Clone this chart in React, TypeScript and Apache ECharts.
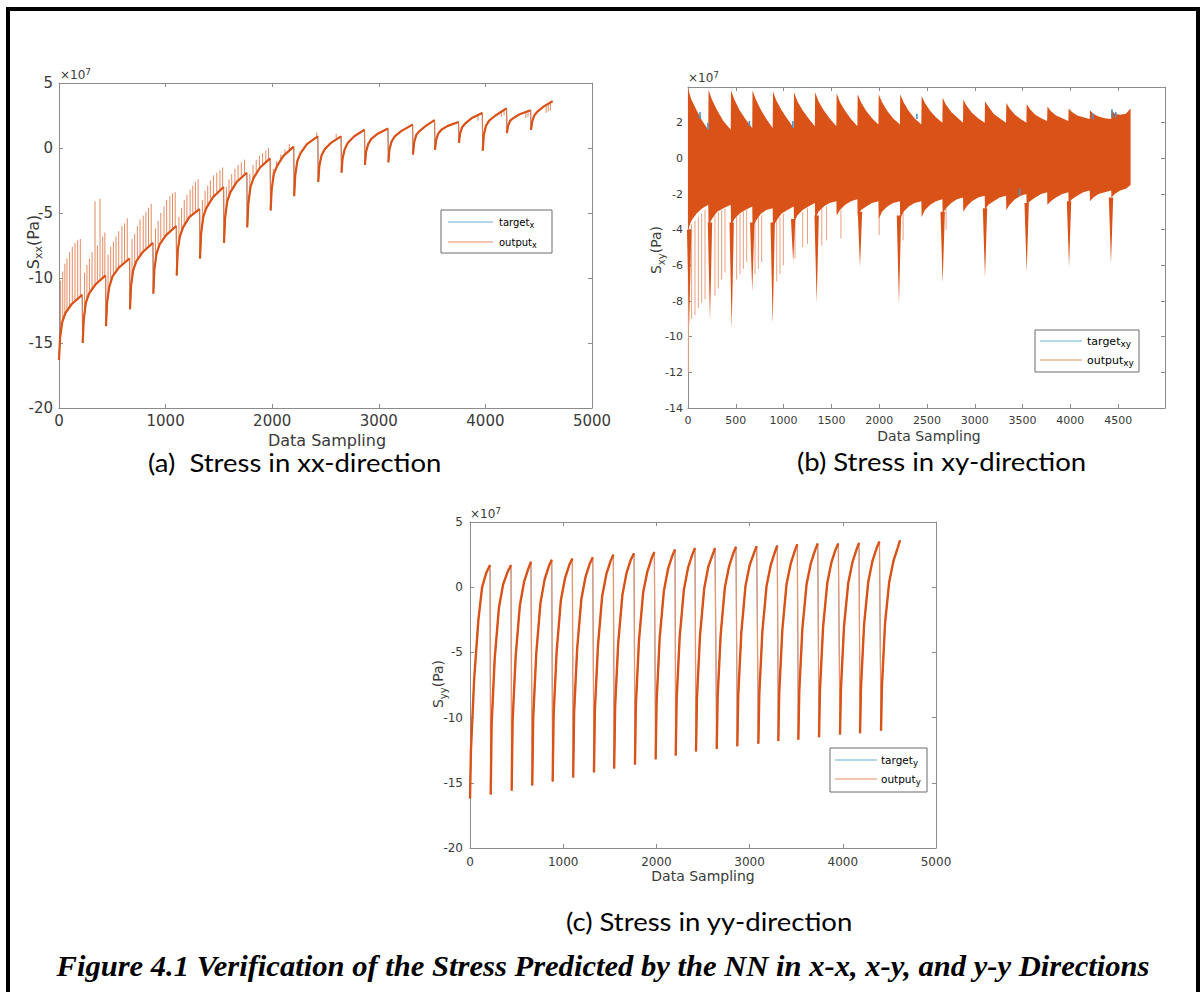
import React, { useEffect, useRef } from "react";
import * as echarts from "echarts";

const ORANGE = "#D95319";
const BLUE = "#0072BD";
const AX = "#8c8c8c";
const LBL = "#3a3a3a";
const FONT = "DejaVu Sans";

// ---------- (a) S_xx : cycles of [sample, stress (x1e7 Pa)] ----------
const xxRangeX = { min: 0, max: 5000, interval: 1000 };
const xxRangeY = { min: -20, max: 5, interval: 5 };
const xxCycles: number[][][] = [
  [[0, -16.3], [10, -14.6], [30, -13.4], [60, -12.7], [120, -12.0], [218, -11.3]],
  [[222, -15.0], [232, -13.2], [252, -11.9], [282, -11.2], [342, -10.5], [437, -9.8]],
  [[441, -13.7], [451, -11.9], [471, -10.7], [501, -9.9], [561, -9.2], [662, -8.5]],
  [[666, -12.4], [676, -10.6], [696, -9.4], [726, -8.7], [786, -8.0], [881, -7.3]],
  [[885, -11.2], [895, -9.3], [915, -8.1], [945, -7.4], [1005, -6.7], [1100, -6.0]],
  [[1104, -9.8], [1114, -7.9], [1134, -6.8], [1164, -6.1], [1224, -5.3], [1319, -4.7]],
  [[1323, -8.5], [1333, -6.6], [1353, -5.3], [1383, -4.6], [1443, -3.8], [1544, -3.0]],
  [[1548, -7.3], [1558, -5.4], [1578, -4.1], [1608, -3.4], [1668, -2.6], [1762, -1.9]],
  [[1766, -6.1], [1776, -4.3], [1796, -3.0], [1826, -2.3], [1886, -1.5], [1981, -0.8]],
  [[1985, -4.8], [1995, -3.2], [2015, -2.0], [2045, -1.4], [2105, -0.6], [2202, 0.1]],
  [[2206, -3.7], [2216, -2.1], [2236, -1.0], [2266, -0.4], [2326, 0.3], [2428, 0.9]],
  [[2432, -2.6], [2442, -1.4], [2462, -0.6], [2492, -0.1], [2552, 0.4], [2646, 0.9]],
  [[2650, -1.9], [2660, -0.8], [2680, -0.1], [2710, 0.4], [2770, 0.9], [2866, 1.4]],
  [[2870, -1.3], [2880, -0.3], [2900, 0.3], [2930, 0.7], [2990, 1.1], [3086, 1.5]],
  [[3090, -1.1], [3100, -0.1], [3120, 0.5], [3150, 0.9], [3210, 1.3], [3317, 1.8]],
  [[3321, -0.5], [3331, 0.4], [3351, 1.0], [3381, 1.3], [3441, 1.7], [3523, 2.15]],
  [[3527, -0.15], [3537, 0.6], [3557, 1.1], [3587, 1.4], [3647, 1.7], [3748, 2.0]],
  [[3752, 0.4], [3762, 1.1], [3782, 1.6], [3812, 1.9], [3872, 2.3], [3971, 2.7]],
  [[3975, -0.2], [3985, 1.0], [4005, 1.7], [4035, 2.1], [4095, 2.5], [4198, 3.05]],
  [[4202, 1.15], [4212, 1.7], [4232, 2.1], [4262, 2.3], [4322, 2.6], [4424, 2.9]],
  [[4428, 1.4], [4438, 2.0], [4458, 2.5], [4488, 2.8], [4548, 3.2], [4630, 3.6]],
];
// thin spikes: [sample, curve value, spike tip]
const xxSpikes: number[][] = [
  [15, -14.2, -10.2], [35, -13.3, -9.5], [55, -12.9, -8.9], [75, -12.6, -8.5], [100, -12.2, -8.0], [125, -12.0, -7.6], [150, -11.8, -7.3], [175, -11.6, -7.1], [200, -11.4, -7.0],
  [240, -12.7, -9.6], [262, -11.8, -9.0], [285, -11.2, -8.5], [310, -10.9, -8.0], [338, -10.5, -4.1], [360, -10.3, -7.5], [385, -10.1, -3.9], [410, -10.0, -6.8], [430, -9.9, -6.5],
  [460, -11.2, -8.2], [485, -10.3, -7.6], [510, -9.7, -7.2], [535, -9.4, -6.8], [560, -9.2, -6.4], [590, -9.0, -6.0], [615, -8.8, -5.8], [640, -8.6, -5.4],
  [685, -9.8, -7.0], [710, -9.0, -6.6], [735, -8.5, -6.0], [760, -8.2, -5.5], [790, -7.9, -5.2], [815, -7.7, -4.9], [840, -7.5, -4.6], [865, -7.4, -4.3],
  [905, -8.4, -6.2], [930, -7.6, -5.6], [955, -7.1, -5.0], [985, -6.8, -4.5], [1010, -6.6, -4.0], [1040, -6.4, -3.7], [1065, -6.2, -3.5], [1090, -6.0, -3.4],
  [1125, -7.3, -5.3], [1150, -6.4, -4.6], [1175, -5.9, -4.0], [1200, -5.6, -3.6], [1230, -5.3, -3.2], [1255, -5.1, -2.9], [1280, -4.9, -2.6], [1305, -4.8, -2.4],
  [1345, -5.6, -4.0], [1370, -4.8, -3.3], [1395, -4.3, -2.9], [1420, -3.9, -2.5], [1450, -3.7, -2.1], [1480, -3.4, -1.9], [1510, -3.2, -1.7], [1535, -3.0, -1.5],
  [1570, -4.5, -3.0], [1595, -3.6, -2.4], [1620, -3.1, -2.0], [1650, -2.8, -1.6], [1680, -2.5, -1.3], [1710, -2.2, -1.1], [1740, -2.0, -0.9],
  [1790, -3.4, -2.0], [1820, -2.5, -1.3], [1850, -1.9, -0.9], [1880, -1.6, -0.6], [1910, -1.3, -0.4], [1940, -1.1, -0.2], [1965, -0.9, 0.0],
  [2010, -2.3, -1.6], [2040, -1.5, -1.0], [2080, -1.0, -0.5], [2120, -0.5, -0.1], [2160, -0.2, 0.3],
  [2417, 0.9, 1.2], [2600, 0.7, 1.1],
  [3930, 2.6, 2.1], [4150, 2.9, 2.4], [4175, 3.0, 2.5], [4380, 2.8, 2.3], [4400, 2.9, 2.4], [4570, 3.25, 2.7], [4590, 3.35, 2.8], [4610, 3.45, 2.9],
];

// ---------- (b) S_xy : oscillation envelopes ----------
const xyRangeX = { min: 0, max: 4990, interval: 500 };
const xyRangeY = { min: -14, max: 4, interval: 2 };
const xyUpper: number[][][] = [
  [[0, 3.9], [35, 3.3], [90, 2.7], [150, 2.1], [212, 1.6]],
  [[215, 3.85], [250, 3.3], [305, 2.7], [370, 2.1], [447, 1.6]],
  [[450, 3.8], [485, 3.3], [540, 2.7], [600, 2.2], [672, 1.7]],
  [[675, 3.8], [710, 3.3], [765, 2.7], [820, 2.2], [886, 1.7]],
  [[889, 3.75], [924, 3.25], [979, 2.7], [1040, 2.2], [1106, 1.7]],
  [[1109, 3.7], [1144, 3.2], [1199, 2.7], [1260, 2.25], [1327, 1.8]],
  [[1330, 3.7], [1365, 3.2], [1420, 2.7], [1480, 2.25], [1552, 1.8]],
  [[1555, 3.65], [1590, 3.15], [1645, 2.65], [1705, 2.2], [1772, 1.8]],
  [[1775, 3.6], [1810, 3.15], [1865, 2.65], [1925, 2.25], [1992, 1.9]],
  [[1995, 3.6], [2030, 3.15], [2085, 2.65], [2145, 2.25], [2217, 1.9]],
  [[2220, 3.6], [2255, 3.15], [2310, 2.65], [2370, 2.25], [2441, 1.9]],
  [[2444, 3.5], [2479, 3.1], [2534, 2.65], [2594, 2.3], [2661, 2.0]],
  [[2664, 3.4], [2699, 3.0], [2754, 2.6], [2814, 2.3], [2877, 2.0]],
  [[2880, 3.3], [2915, 2.95], [2970, 2.55], [3035, 2.25], [3104, 2.0]],
  [[3107, 3.2], [3142, 2.9], [3197, 2.5], [3260, 2.25], [3327, 2.0]],
  [[3330, 3.1], [3365, 2.8], [3420, 2.45], [3480, 2.2], [3540, 2.0]],
  [[3543, 3.05], [3578, 2.75], [3633, 2.45], [3695, 2.25], [3757, 2.1]],
  [[3760, 2.9], [3795, 2.65], [3850, 2.4], [3915, 2.25], [3979, 2.1]],
  [[3982, 2.8], [4017, 2.6], [4072, 2.4], [4135, 2.3], [4202, 2.2]],
  [[4205, 2.7], [4240, 2.5], [4295, 2.35], [4360, 2.25], [4427, 2.2]],
  [[4430, 2.7], [4465, 2.5], [4520, 2.45], [4580, 2.5], [4630, 2.8]],
];
const xyLower: number[][][] = [
  [[0, -4.0], [35, -3.5], [90, -3.1], [150, -2.8], [212, -2.6]],
  [[215, -3.8], [250, -3.4], [305, -3.0], [370, -2.8], [447, -2.6]],
  [[450, -3.8], [485, -3.4], [540, -3.1], [600, -2.9], [672, -2.7]],
  [[675, -3.9], [710, -3.5], [765, -3.1], [820, -2.9], [886, -2.8]],
  [[889, -3.9], [924, -3.5], [979, -3.1], [1040, -2.9], [1106, -2.7]],
  [[1109, -3.6], [1144, -3.2], [1199, -2.9], [1260, -2.7], [1327, -2.5]],
  [[1330, -3.4], [1365, -3.0], [1420, -2.7], [1480, -2.5], [1552, -2.4]],
  [[1555, -3.2], [1590, -2.9], [1645, -2.6], [1705, -2.4], [1772, -2.3]],
  [[1775, -3.2], [1810, -2.9], [1865, -2.7], [1925, -2.5], [1992, -2.4]],
  [[1995, -3.4], [2030, -3.0], [2085, -2.7], [2145, -2.5], [2217, -2.4]],
  [[2220, -3.4], [2255, -3.0], [2310, -2.7], [2370, -2.5], [2441, -2.4]],
  [[2444, -3.3], [2479, -2.9], [2534, -2.6], [2594, -2.4], [2661, -2.3]],
  [[2664, -3.1], [2699, -2.8], [2754, -2.5], [2814, -2.3], [2877, -2.2]],
  [[2880, -3.0], [2915, -2.7], [2970, -2.4], [3035, -2.2], [3104, -2.1]],
  [[3107, -2.9], [3142, -2.6], [3197, -2.4], [3260, -2.2], [3327, -2.1]],
  [[3330, -2.9], [3365, -2.6], [3420, -2.3], [3480, -2.1], [3540, -2.0]],
  [[3543, -2.6], [3578, -2.4], [3633, -2.2], [3695, -2.0], [3757, -1.9]],
  [[3760, -2.6], [3795, -2.4], [3850, -2.2], [3915, -2.0], [3979, -1.9]],
  [[3982, -2.5], [4017, -2.3], [4072, -2.1], [4135, -1.9], [4202, -1.8]],
  [[4205, -2.4], [4240, -2.2], [4295, -2.0], [4360, -1.9], [4427, -1.8]],
  [[4430, -2.2], [4465, -2.0], [4520, -1.8], [4580, -1.7], [4630, -1.5]],
];
// deep spikes: [sample, top, bottom]
const xyDeepSpikes: number[][] = [
  [12, -4.0, -9.4], [230, -3.6, -9.1], [457, -3.6, -9.6], [672, -3.6, -7.5], [886, -3.6, -9.3], [1100, -3.4, -5.8],
  [1346, -3.2, -8.1], [1799, -3.0, -6.1], [2207, -3.2, -8.2], [2664, -3.0, -7.0], [3107, -2.8, -6.7],
  [3543, -2.5, -6.4], [3986, -2.4, -6.1], [4425, -2.2, -5.9],
];
// light spikes: [sample, top, bottom]
const xyLightSpikes: number[][] = [
  [4, 3.9, -12.0], [38, -3.7, -9.0], [73, -3.5, -8.8], [108, -3.3, -8.4], [143, -3.1, -8.1], [178, -2.9, -7.9],
  [282, -3.2, -7.7], [317, -3.0, -7.3], [352, -2.9, -6.8], [387, -2.8, -6.4], [509, -3.3, -6.8], [544, -3.1, -6.5],
  [579, -3.0, -6.2], [614, -2.9, -5.8], [701, -3.5, -6.5], [736, -3.3, -6.2], [771, -3.2, -5.8], [928, -3.4, -6.9],
  [962, -3.3, -6.5], [997, -3.1, -6.0], [1119, -3.5, -5.6], [1200, -3.0, -5.0], [1250, -2.8, -4.8], [1400, -2.8, -4.9],
  [1450, -2.7, -4.6], [1600, -2.9, -4.5], [2000, -3.3, -4.3], [2250, -3.0, -4.6], [2700, -2.8, -4.0],
];
// visible target (blue) bits: [sample, low, high]
const xyTargetBits: number[][] = [
  [126, 2.2, 2.6], [209, 1.6, 2.0], [643, 1.8, 2.1], [1097, 1.7, 2.1], [2394, 2.2, 2.5],
  [3470, -2.1, -1.7], [4232, 2.2, 2.55], [4435, 2.3, 2.75], [4475, 2.3, 2.6],
];

// ---------- (c) S_yy ----------
const yyRangeX = { min: 0, max: 5000, interval: 1000 };
const yyRangeY = { min: -20, max: 5, interval: 5 };
const yyCycles: number[][][] = [
  [[0, -16.2], [10, -12.5], [45, -7.0], [90, -2.5], [130, 0.0], [175, 1.1], [215, 1.7]],
  [[222, -15.9], [232, -10.5], [265, -5.5], [310, -1.6], [355, 0.2], [400, 1.1], [440, 1.7]],
  [[447, -15.6], [457, -10.3], [490, -5.3], [535, -1.4], [580, 0.4], [625, 1.4], [654, 1.95]],
  [[668, -15.2], [678, -10.0], [711, -5.1], [756, -1.2], [801, 0.6], [846, 1.6], [877, 2.1]],
  [[887, -14.9], [897, -9.8], [930, -4.9], [975, -1.0], [1020, 0.7], [1065, 1.7], [1098, 2.2]],
  [[1107, -14.6], [1117, -9.6], [1150, -4.7], [1195, -0.9], [1240, 0.8], [1285, 1.8], [1317, 2.3]],
  [[1330, -14.2], [1340, -9.4], [1373, -4.5], [1418, -0.7], [1463, 1.0], [1508, 2.0], [1538, 2.5]],
  [[1547, -13.9], [1557, -9.2], [1590, -4.3], [1635, -0.6], [1680, 1.1], [1725, 2.1], [1760, 2.6]],
  [[1770, -13.6], [1780, -9.0], [1813, -4.1], [1858, -0.4], [1903, 1.2], [1948, 2.2], [1978, 2.7]],
  [[1992, -13.2], [2002, -8.8], [2035, -3.9], [2080, -0.3], [2125, 1.4], [2170, 2.4], [2200, 2.9]],
  [[2207, -12.9], [2217, -8.6], [2250, -3.8], [2295, -0.2], [2340, 1.5], [2385, 2.5], [2414, 3.0]],
  [[2425, -12.6], [2435, -8.5], [2468, -3.7], [2513, -0.1], [2558, 1.6], [2603, 2.5], [2629, 3.0]],
  [[2647, -12.4], [2657, -8.4], [2690, -3.6], [2735, 0.0], [2780, 1.6], [2825, 2.6], [2854, 3.1]],
  [[2868, -12.2], [2878, -8.3], [2911, -3.5], [2956, 0.1], [3001, 1.7], [3046, 2.6], [3076, 3.15]],
  [[3094, -12.0], [3104, -8.2], [3137, -3.4], [3182, 0.1], [3227, 1.7], [3272, 2.7], [3297, 3.2]],
  [[3308, -11.8], [3318, -8.1], [3351, -3.3], [3396, 0.2], [3441, 1.8], [3486, 2.8], [3512, 3.3]],
  [[3523, -11.7], [3533, -8.0], [3566, -3.2], [3611, 0.2], [3656, 1.8], [3701, 2.8], [3731, 3.35]],
  [[3745, -11.5], [3755, -7.9], [3788, -3.1], [3833, 0.3], [3878, 1.9], [3923, 2.9], [3952, 3.35]],
  [[3970, -11.3], [3980, -7.8], [4013, -3.0], [4058, 0.3], [4103, 1.9], [4148, 2.9], [4174, 3.4]],
  [[4185, -11.2], [4195, -7.7], [4228, -2.9], [4273, 0.4], [4318, 2.0], [4363, 3.0], [4393, 3.5]],
  [[4410, -11.0], [4420, -7.6], [4453, -2.8], [4498, 0.4], [4543, 2.0], [4588, 3.0], [4614, 3.6]],
];

// ---------- helpers ----------
const flat = (cycles: number[][][]) => cycles.reduce((acc: any[], c) => acc.concat(c), []);
const broken = (cycles: number[][][]) =>
  cycles.reduce((acc: any[], c, i) => acc.concat(i ? [["-", "-"]] : [], c), []);

const segRender = (color: string, width: number) => (params: any, api: any) => {
  const a = api.coord([api.value(0), api.value(1)]);
  const b = api.coord([api.value(0), api.value(2)]);
  return { type: "line", shape: { x1: a[0], y1: a[1], x2: b[0], y2: b[1] }, style: { stroke: color, lineWidth: width } };
};
const wedgeRender = (color: string, half: number) => (params: any, api: any) => {
  const a = api.coord([api.value(0), api.value(1)]);
  const b = api.coord([api.value(0), api.value(2)]);
  return { type: "polygon", shape: { points: [[a[0] - half, a[1]], [b[0], b[1]], [a[0] + half, a[1]]] }, style: { fill: color } };
};
const bandRender = (upper: number[][], lower: number[][], color: string) => (params: any, api: any) => {
  const pts = upper.map((p) => api.coord(p)).concat(lower.slice().reverse().map((p) => api.coord(p)));
  return { type: "polygon", shape: { points: pts }, style: { fill: color } };
};

const plain = (v: number) => String(v);

function xAxes(gridIndex: number, r: any, fs: number, margin: number, showMax: boolean) {
  const common: any = {
    type: "value", gridIndex, min: r.min, max: r.max, interval: r.interval,
    splitLine: { show: false },
    axisLine: { show: true, onZero: false, lineStyle: { color: AX, width: 1 } },
    axisTick: { show: true, inside: true, length: 4, lineStyle: { color: AX } },
  };
  return [
    { ...common, position: "bottom", axisLabel: { color: LBL, fontSize: fs, fontFamily: FONT, margin, showMaxLabel: showMax, showMinLabel: true, formatter: plain } },
    { ...common, position: "top", axisLabel: { show: false } },
  ];
}
function yAxes(gridIndex: number, r: any, fs: number, margin: number, showMax: boolean) {
  const common: any = {
    type: "value", gridIndex, min: r.min, max: r.max, interval: r.interval,
    splitLine: { show: false },
    axisLine: { show: true, onZero: false, lineStyle: { color: AX, width: 1 } },
    axisTick: { show: true, inside: true, length: 4, lineStyle: { color: AX } },
  };
  return [
    { ...common, position: "left", axisLabel: { color: LBL, fontSize: fs, fontFamily: FONT, margin, showMaxLabel: showMax, showMinLabel: true, formatter: plain } },
    { ...common, position: "right", axisLabel: { show: false } },
  ];
}

const text = (x: number, y: number, t: string, o: any = {}) => ({
  type: "text", x, y, z: 100, rotation: o.rotation || 0, scaleX: o.scaleX || 1,
  style: {
    text: t, fill: o.color || "#000", fontSize: o.fontSize || 14, fontFamily: o.fontFamily || FONT,
    fontWeight: o.fontWeight || "normal", fontStyle: o.fontStyle || "normal",
    align: o.align || "center", verticalAlign: o.verticalAlign || "middle",
    textAlign: o.align || "center", textVerticalAlign: o.verticalAlign || "middle",
    rich: o.rich,
  },
});
const subRich = (m: number, s: number) => ({
  m: { fontSize: m, fontFamily: FONT, fill: LBL, color: LBL, lineHeight: m + 6 },
  s: { fontSize: s, fontFamily: FONT, fill: LBL, color: LBL, lineHeight: s, verticalAlign: "bottom" },
});
const supRich = (m: number, s: number) => ({
  m: { fontSize: m, fontFamily: FONT, fill: LBL, color: LBL, lineHeight: m + 4 },
  s: { fontSize: s, fontFamily: FONT, fill: LBL, color: LBL, lineHeight: s, verticalAlign: "top" },
});
const legRich = (fs: number) => ({
  m: { fontSize: fs, fontFamily: FONT, color: "#222", lineHeight: fs + 4 },
  s: { fontSize: fs - 2, fontFamily: FONT, color: "#222", lineHeight: fs - 2, verticalAlign: "bottom" },
});
const legend = (bx: number, by: number, bw: number, bh: number, lx1: number, lx2: number, y1: number, y2: number, tx: number, fs: number, sub: string) => [
  { type: "rect", z: 100, shape: { x: bx, y: by, width: bw, height: bh }, style: { fill: "#fff", stroke: "#6a6a6a", lineWidth: 1 } },
  { type: "line", z: 101, shape: { x1: lx1, y1, x2: lx2, y2: y1 }, style: { stroke: "#6aaed8", lineWidth: 1.2 } },
  { type: "line", z: 101, shape: { x1: lx1, y1: y2, x2: lx2, y2 }, style: { stroke: "#e58c64", lineWidth: 1.2 } },
  text(tx, y1, `{m|target}{s|${sub}}`, { align: "left", rich: legRich(fs) }),
  text(tx, y2, `{m|output}{s|${sub}}`, { align: "left", rich: legRich(fs) }),
];

function buildOption(): any {
  const up = flat(xyUpper);
  const lo = flat(xyLower);
  return {
    animation: false,
    backgroundColor: "#fff",
    grid: [
      { left: 59, top: 83, width: 533, height: 325 },
      { left: 688, top: 87, width: 477, height: 321 },
      { left: 470, top: 522, width: 466, height: 326 },
    ],
    xAxis: [
      ...xAxes(0, xxRangeX, 15, 5, true),
      ...xAxes(1, xyRangeX, 11, 7, false),
      ...xAxes(2, yyRangeX, 12, 8, true),
    ],
    yAxis: [
      ...yAxes(0, xxRangeY, 15, 6, true),
      ...yAxes(1, xyRangeY, 11, 5, false),
      ...yAxes(2, yyRangeY, 12, 7, true),
    ],
    series: [
      // (a)
      { type: "line", name: "target_x", xAxisIndex: 0, yAxisIndex: 0, data: flat(xxCycles), showSymbol: false, silent: true, lineStyle: { color: BLUE, width: 0.6 } },
      { type: "custom", name: "spikes_x", xAxisIndex: 0, yAxisIndex: 0, data: xxSpikes, encode: { x: 0, y: [1, 2] }, renderItem: segRender("#E38A62", 1), silent: true },
      { type: "line", name: "output_x", xAxisIndex: 0, yAxisIndex: 0, data: flat(xxCycles), showSymbol: false, silent: true, lineStyle: { color: "#E07A4C", width: 1.2 } },
      { type: "line", name: "output_x_main", xAxisIndex: 0, yAxisIndex: 0, data: broken(xxCycles), connectNulls: false, showSymbol: false, silent: true, lineStyle: { color: ORANGE, width: 2.2 } },
      // (b)
      { type: "custom", name: "light_xy", xAxisIndex: 2, yAxisIndex: 2, data: xyLightSpikes, encode: { x: 0, y: [1, 2] }, renderItem: segRender("#E9A080", 1), silent: true },
      { type: "custom", name: "deep_xy", xAxisIndex: 2, yAxisIndex: 2, data: xyDeepSpikes, encode: { x: 0, y: [1, 2] }, renderItem: wedgeRender(ORANGE, 2.2), silent: true },
      { type: "custom", name: "output_xy", xAxisIndex: 2, yAxisIndex: 2, data: [[0, 0]], encode: { x: 0, y: 1 }, renderItem: bandRender(up, lo, ORANGE), silent: true },
      { type: "custom", name: "target_xy", xAxisIndex: 2, yAxisIndex: 2, data: xyTargetBits, encode: { x: 0, y: [1, 2] }, renderItem: segRender("#4a93cc", 1.6), silent: true },
      // (c)
      { type: "line", name: "target_y", xAxisIndex: 4, yAxisIndex: 4, data: flat(yyCycles), showSymbol: false, silent: true, lineStyle: { color: BLUE, width: 0.6 } },
      { type: "line", name: "output_y", xAxisIndex: 4, yAxisIndex: 4, data: flat(yyCycles), showSymbol: false, silent: true, lineStyle: { color: "#E69572", width: 1.3 } },
      { type: "line", name: "output_y_main", xAxisIndex: 4, yAxisIndex: 4, data: broken(yyCycles), connectNulls: false, showSymbol: false, silent: true, lineStyle: { color: ORANGE, width: 2.4 } },
    ],
    graphic: [
      { type: "rect", z: 100, shape: { x: 8, y: 9, width: 1190, height: 1100 }, style: { fill: "none", stroke: "#000", lineWidth: 4 } },
      // exponent labels
      text(60, 75, "{m|×10}{s|7}", { align: "left", rich: supRich(12, 9) }),
      text(688, 78, "{m|×10}{s|7}", { align: "left", rich: supRich(12, 9) }),
      text(470, 514, "{m|×10}{s|7}", { align: "left", rich: supRich(12, 9) }),
      // y axis names
      text(33, 242, "{m|S}{s|xx}{m|(Pa)}", { rotation: Math.PI / 2, rich: subRich(16, 11) }),
      text(656, 250, "{m|S}{s|xy}{m|(Pa)}", { rotation: Math.PI / 2, rich: subRich(14, 10) }),
      text(438, 684, "{m|S}{s|yy}{m|(Pa)}", { rotation: Math.PI / 2, rich: subRich(14, 10) }),
      // x axis names
      text(327, 440, "Data Sampling", { fontSize: 16, color: LBL }),
      text(929, 436, "Data Sampling", { fontSize: 14, color: LBL }),
      text(703, 876, "Data Sampling", { fontSize: 14, color: LBL }),
      // legends
      ...legend(441, 210, 111, 43, 448, 493, 222, 242, 499, 10, "x"),
      ...legend(1035, 330, 104, 42, 1040, 1082, 341, 360, 1087, 11, "xy"),
      ...legend(830, 748, 97, 44, 835, 877, 760, 779, 881, 10.5, "y"),
      // panel titles
      text(148, 462, "(a)  Stress in xx-direction", { align: "left", fontSize: 25, fontFamily: "Lato", scaleX: 1.1 }),
      text(797, 461, "(b) Stress in xy-direction", { align: "left", fontSize: 25, fontFamily: "Lato", scaleX: 1.1 }),
      text(566, 921, "(c) Stress in yy-direction", { align: "left", fontSize: 25, fontFamily: "Lato", scaleX: 1.1 }),
      // caption
      text(603, 966, "Figure 4.1 Verification of the Stress Predicted by the NN in x-x, x-y, and y-y Directions", {
        fontSize: 29, fontFamily: "Liberation Serif", fontWeight: "bold", fontStyle: "italic", scaleX: 1.055,
      }),
    ],
  };
}

export default function App() {
  const ref = useRef<HTMLDivElement>(null);
  useEffect(() => {
    if (!ref.current) return;
    const chart = echarts.init(ref.current, undefined, { renderer: "svg" });
    chart.setOption(buildOption());
    return () => chart.dispose();
  }, []);
  return <div ref={ref} style={{ position: "absolute", left: 0, top: 0, width: 1203, height: 992, background: "#fff" }} />;
}
